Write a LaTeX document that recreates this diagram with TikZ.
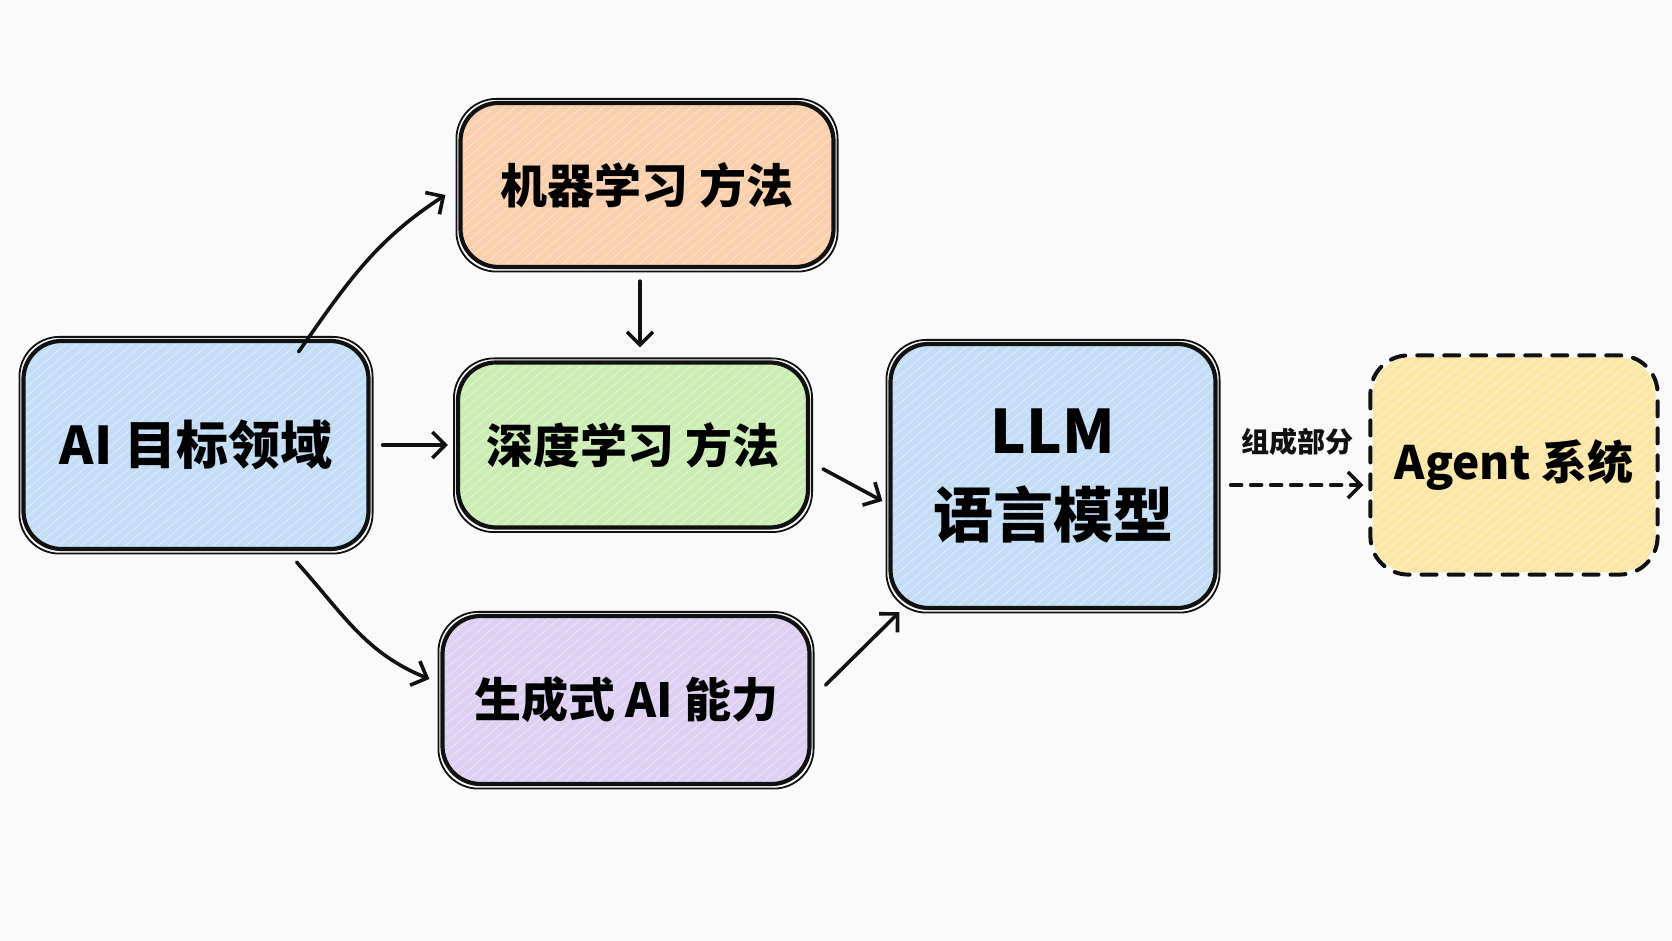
\documentclass[tikz,border=0pt]{standalone}
\usepackage{fontspec}
\newfontfamily\cjk{Noto Sans CJK SC}
\usetikzlibrary{arrows.meta}
\definecolor{bg}{HTML}{FAFAFA}
\definecolor{ink}{HTML}{111111}
\definecolor{fblue}{HTML}{C4DDF6}
\definecolor{forange}{HTML}{F9CFAC}
\definecolor{fgreen}{HTML}{CBEDB3}
\definecolor{fpurple}{HTML}{DDD0F3}
\definecolor{fyellow}{HTML}{FBE6A6}
\tikzset{
  hatch/.style={path picture={
    \foreach \i in {-320,-309,...,420}
      \draw[white, opacity=.35, line width=1.1pt] ([xshift=\i pt]path picture bounding box.south west) -- ++(330,280);}},
  box/.style={draw=ink, line width=4.2pt, rounded corners=38pt, inner sep=0pt, font=\cjk\bfseries, align=center, hatch},
  sketch/.style={draw=ink, line width=1.8pt, rounded corners=40pt},
  arr/.style={draw=ink, line width=3.6pt, line cap=round, -{Straight Barb[length=13pt,width=26pt]}},
  dasharr/.style={arr, dash pattern=on 11pt off 9pt},
}
\newcommand\sketchline[1]{%
  \draw[sketch] ([shift={(-2pt,2pt)}]#1.north west) rectangle ([shift={(2pt,-2.5pt)}]#1.south east);}
\begin{document}
\begin{tikzpicture}[x=1pt,y=1pt]
\fill[bg] (0,0) rectangle (1672,941);
\useasboundingbox (0,0) rectangle (1672,941);

\node[box, fill=fblue, minimum width=345pt, minimum height=208pt, font=\cjk\bfseries\fontsize{52}{60}\selectfont] (AI) at (196,496) {AI 目标领域};
\node[box, fill=forange, minimum width=373pt, minimum height=164pt, font=\cjk\bfseries\fontsize{47}{55}\selectfont] (ML) at (647,756) {机器学习 方法};
\node[box, fill=fgreen, minimum width=350pt, minimum height=165pt, font=\cjk\bfseries\fontsize{47}{55}\selectfont] (DL) at (633,496) {深度学习 方法};
\node[box, fill=fpurple, minimum width=367pt, minimum height=168pt, font=\cjk\bfseries\fontsize{47}{55}\selectfont] (Gen) at (626,241) {生成式 AI 能力};
\node[box, fill=fblue, minimum width=325pt, minimum height=264pt, font=\cjk\bfseries\fontsize{60}{84}\selectfont] (LLM) at (1053,465) {LLM\\语言模型};
\node[box, draw=none, fill=fyellow, minimum width=283pt, minimum height=215pt, font=\cjk\bfseries\fontsize{46}{56}\selectfont] (Agent) at (1514,476) {Agent 系统};
\draw[draw=ink, line width=4pt, line cap=round, dash pattern=on 15pt off 12pt, rounded corners=38pt] (Agent.north west) rectangle (Agent.south east);

\sketchline{AI}
\sketchline{ML}
\sketchline{DL}
\sketchline{Gen}
\sketchline{LLM}

\draw[arr] ([shift={(-72pt,-13pt)}]AI.north east) to[out=55,in=213] ([shift={(-13pt,-10pt)}]ML.west);
\draw[arr] ([xshift=12pt]AI.east) -- ([xshift=-8pt]DL.west);
\draw[arr] ([shift={(-74pt,-11pt)}]AI.south east) to[out=-48,in=158] ([shift={(-11pt,21pt)}]Gen.west);
\draw[arr] ([shift={(-7pt,-12pt)}]ML.south) -- ([shift={(7pt,13pt)}]DL.north);
\draw[arr] ([shift={(13pt,-24pt)}]DL.east) -- ([shift={(-6pt,-25pt)}]LLM.west);
\draw[arr] ([shift={(14pt,15pt)}]Gen.east) -- ([shift={(11pt,-2pt)}]LLM.south west);
\draw[dasharr] ([shift={(13pt,-9pt)}]LLM.east) -- node[above=24pt, font=\cjk\bfseries\fontsize{28}{32}\selectfont, text=ink] (lab) {组成部分} ([shift={(-7pt,-20pt)}]Agent.west);
\end{tikzpicture}
\end{document}
